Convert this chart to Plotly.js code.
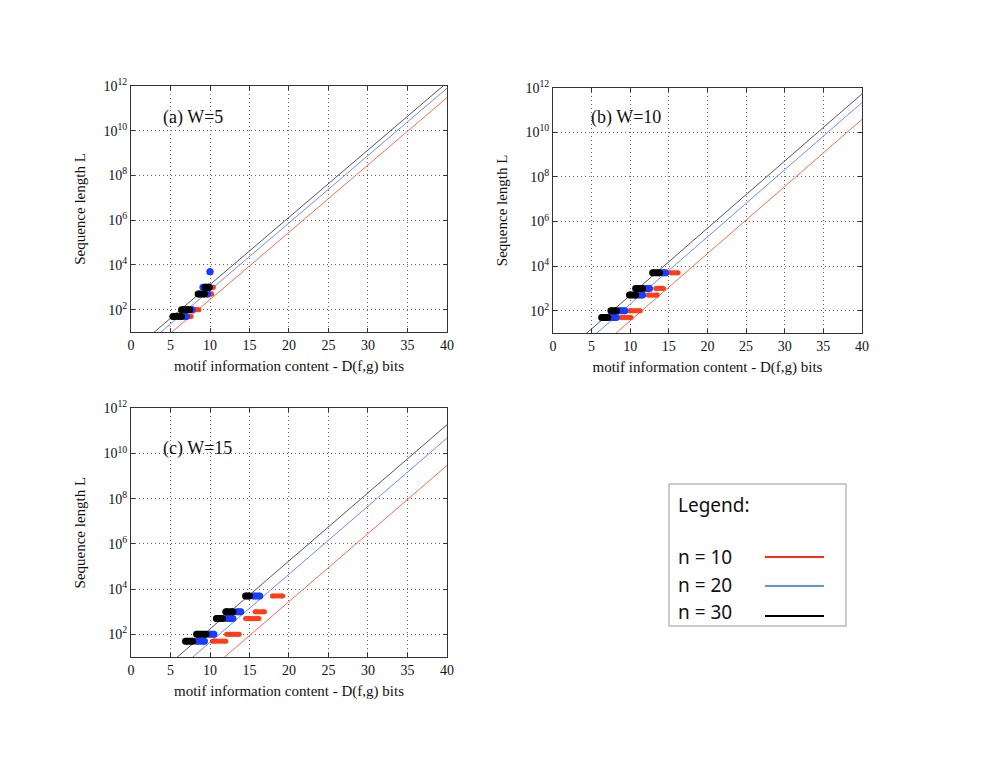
<!DOCTYPE html>
<html>
<head>
<meta charset="utf-8">
<script src="https://cdn.plot.ly/plotly-3.0.1.min.js"></script>
<style>
  body { margin: 0; background: #fff; }
  #chart { width: 985px; height: 761px; }
</style>
</head>
<body>
<div id="chart"></div>
<script>
// L levels where the simulations were run
var Llevels = [50, 100, 500, 1000, 5000];

// observed D ranges (first / last point) for each L level, per panel and n
var a30Start = [5.3, 6.4, 8.5, 9.4, null], a30End = [6.4, 7.4, 9.3, 9.9, null];
var a20Start = [6.9, 7.7, 9.7, 9.1, 10.0], a20End = [7.0, 7.7, 9.7, 9.9, 10.0];
var a10Start = [7.4, 8.1, 10.2, 10.4, 10.0], a10End = [7.6, 8.6, 10.2, 10.4, 10.0];

var b30Start = [6.3, 7.5, 9.9, 10.7, 12.9], b30End = [7.1, 8.2, 10.7, 11.6, 13.8];
var b20Start = [7.5, 8.6, 11.1, 12.0, 14.2], b20End = [8.2, 9.3, 11.6, 12.5, 14.6];
var b10Start = [8.8, 9.9, 12.3, 13.3, 15.2], b10End = [10.1, 11.3, 13.5, 14.3, 16.2];

var c30Start = [6.9, 8.3, 10.8, 12.0, 14.5], c30End = [7.8, 9.5, 11.6, 12.9, 15.0];
var c20Start = [8.3, 9.9, 12.1, 13.4, 15.5], c20End = [9.3, 10.5, 12.9, 13.9, 16.3];
var c10Start = [10.3, 12.1, 14.5, 15.7, 17.9], c10End = [12.0, 13.7, 16.2, 16.9, 19.2];

// theoretical lines, L at D = 0 and D = 40
var lineX = [0, 40];
var aLine30 = [1.29, 1.41e12], aLine20 = [0.724, 7.94e11], aLine10 = [0.275, 3.02e11];
var bLine30 = [0.479, 5.25e11], bLine20 = [0.195, 2.14e11], bLine10 = [0.0347, 3.8e10];
var cLine30 = [0.17, 1.86e11], cLine20 = [0.0437, 4.79e10], cLine10 = [0.00269, 2.95e9];

var yTickVals = [1e2, 1e4, 1e6, 1e8, 1e10, 1e12];
var yTickText = ['10<sup>2</sup>', '10<sup>4</sup>', '10<sup>6</sup>', '10<sup>8</sup>', '10<sup>10</sup>', '10<sup>12</sup>'];
var xTickVals = [0, 5, 10, 15, 20, 25, 30, 35, 40];

var lineCol = { 10: '#ff6a55', 20: '#6f8dff', 30: '#555555' };
var barCol = { 10: '#ff2a00', 20: '#1a3cff', 30: '#000000' };

function segs(start, end, xa, ya, n) {
  var x = [], y = [];
  for (var i = 0; i < Llevels.length; i++) {
    if (start[i] === null) continue;
    x.push(start[i], end[i], null);
    y.push(Llevels[i], Llevels[i], null);
  }
  var w = n === 10 ? 5 : 7;
  return {
    type: 'scatter', mode: 'lines+markers', x: x, y: y, xaxis: xa, yaxis: ya,
    line: { color: barCol[n], width: w },
    marker: { color: barCol[n], size: w, symbol: 'circle', line: { width: 0 } },
    opacity: n === 10 ? 0.9 : 1, showlegend: false, hoverinfo: 'skip'
  };
}

function theory(yv, xa, ya, n) {
  return {
    type: 'scatter', mode: 'lines', x: lineX, y: yv, xaxis: xa, yaxis: ya,
    line: { color: lineCol[n], width: 1 }, showlegend: false, hoverinfo: 'skip'
  };
}

var data = [
  theory(aLine10, 'x', 'y', 10), theory(aLine20, 'x', 'y', 20), theory(aLine30, 'x', 'y', 30),
  segs(a10Start, a10End, 'x', 'y', 10), segs(a20Start, a20End, 'x', 'y', 20), segs(a30Start, a30End, 'x', 'y', 30),
  theory(bLine10, 'x2', 'y2', 10), theory(bLine20, 'x2', 'y2', 20), theory(bLine30, 'x2', 'y2', 30),
  segs(b10Start, b10End, 'x2', 'y2', 10), segs(b20Start, b20End, 'x2', 'y2', 20), segs(b30Start, b30End, 'x2', 'y2', 30),
  theory(cLine10, 'x3', 'y3', 10), theory(cLine20, 'x3', 'y3', 20), theory(cLine30, 'x3', 'y3', 30),
  segs(c10Start, c10End, 'x3', 'y3', 10), segs(c20Start, c20End, 'x3', 'y3', 20), segs(c30Start, c30End, 'x3', 'y3', 30)
];

var serif = 'Liberation Serif, Times New Roman, serif';

function xax(dom, anchor) {
  return {
    domain: dom, anchor: anchor, range: [0, 40], tickvals: xTickVals,
    showgrid: true, gridcolor: '#666', griddash: '1px,3px', gridwidth: 1,
    showline: true, mirror: 'ticks', linecolor: '#333', linewidth: 1,
    ticks: 'inside', ticklen: 4, tickcolor: '#333', zeroline: false,
    tickfont: { family: serif, size: 14, color: '#111' },
    title: { text: 'motif information content - D(f,g) bits', font: { family: serif, size: 15, color: '#111' }, standoff: 8 }
  };
}
function yax(dom, anchor) {
  return {
    domain: dom, anchor: anchor, type: 'log', range: [1, 12],
    tickvals: yTickVals, ticktext: yTickText,
    showgrid: true, gridcolor: '#666', griddash: '1px,3px', gridwidth: 1,
    showline: true, mirror: 'ticks', linecolor: '#333', linewidth: 1,
    ticks: 'inside', ticklen: 4, tickcolor: '#333', zeroline: false,
    tickfont: { family: serif, size: 14, color: '#111' },
    title: { text: 'Sequence length L', font: { family: serif, size: 15, color: '#111' }, standoff: 14 }
  };
}

var sans = 'Noto Sans, Liberation Sans, sans-serif';
var layout = {
  width: 985, height: 761,
  margin: { l: 0, r: 0, t: 0, b: 0 },
  paper_bgcolor: '#fff', plot_bgcolor: '#fff',
  showlegend: false,
  xaxis: xax([0.133, 0.4538], 'y'),
  yaxis: yax([0.5637, 0.887], 'x'),
  xaxis2: xax([0.5614, 0.8751], 'y2'),
  yaxis2: yax([0.5624, 0.8848], 'x2'),
  xaxis3: xax([0.133, 0.4538], 'y3'),
  yaxis3: yax([0.1367, 0.4635], 'x3'),
  annotations: [
    { text: '(a) W=5', xref: 'x domain', yref: 'y domain', x: 0.095, y: 0.87, xanchor: 'left', yanchor: 'middle', showarrow: false, font: { family: serif, size: 18, color: '#111' } },
    { text: '(b) W=10', xref: 'x2 domain', yref: 'y2 domain', x: 0.115, y: 0.877, xanchor: 'left', yanchor: 'middle', showarrow: false, font: { family: serif, size: 18, color: '#111' } },
    { text: '(c) W=15', xref: 'x3 domain', yref: 'y3 domain', x: 0.095, y: 0.84, xanchor: 'left', yanchor: 'middle', showarrow: false, font: { family: serif, size: 18, color: '#111' } },
    { text: 'Legend:', xref: 'paper', yref: 'paper', x: 676 / 985, y: 1 - 505 / 761, xanchor: 'left', yanchor: 'middle', showarrow: false, font: { family: sans, size: 19, color: '#111' } },
    { text: 'n = 10', xref: 'paper', yref: 'paper', x: 676 / 985, y: 1 - 557 / 761, xanchor: 'left', yanchor: 'middle', showarrow: false, font: { family: sans, size: 19, color: '#111' } },
    { text: 'n = 20', xref: 'paper', yref: 'paper', x: 676 / 985, y: 1 - 585 / 761, xanchor: 'left', yanchor: 'middle', showarrow: false, font: { family: sans, size: 19, color: '#111' } },
    { text: 'n = 30', xref: 'paper', yref: 'paper', x: 676 / 985, y: 1 - 612 / 761, xanchor: 'left', yanchor: 'middle', showarrow: false, font: { family: sans, size: 19, color: '#111' } }
  ],
  shapes: [
    { type: 'rect', xref: 'paper', yref: 'paper', x0: 669 / 985, x1: 846 / 985, y0: 1 - 626 / 761, y1: 1 - 484 / 761, line: { color: '#bbb', width: 1.5 } },
    { type: 'line', xref: 'paper', yref: 'paper', x0: 765 / 985, x1: 824 / 985, y0: 1 - 557 / 761, y1: 1 - 557 / 761, line: { color: '#ff2a10', width: 2 } },
    { type: 'line', xref: 'paper', yref: 'paper', x0: 765 / 985, x1: 824 / 985, y0: 1 - 586 / 761, y1: 1 - 586 / 761, line: { color: '#5b9bd5', width: 2 } },
    { type: 'line', xref: 'paper', yref: 'paper', x0: 765 / 985, x1: 824 / 985, y0: 1 - 616 / 761, y1: 1 - 616 / 761, line: { color: '#000', width: 2 } }
  ]
};

Plotly.newPlot('chart', data, layout, { staticPlot: true });
</script>
</body>
</html>
